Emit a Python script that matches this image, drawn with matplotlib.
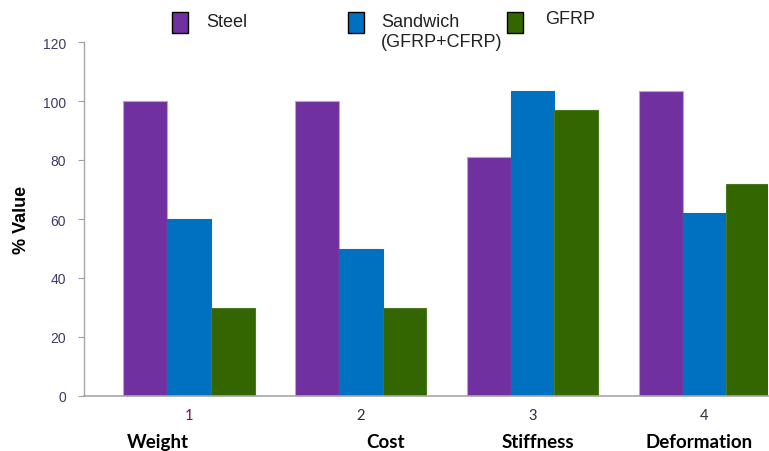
import matplotlib
matplotlib.use("Agg")
import matplotlib.pyplot as plt
from matplotlib.patches import Rectangle
import numpy as np

# Relative performance (%) of the three panel materials
categories = ["Weight", "Cost", "Stiffness", "Deformation"]
tick_numbers = ["1", "2", "3", "4"]
steel = [100, 100, 81, 103.5]
sandwich = [60, 50, 103.5, 62]
gfrp = [30, 30, 97, 72]
series_names = ["Steel", "Sandwich\n(GFRP+CFRP)", "GFRP"]
yticks = [0, 20, 40, 60, 80, 100, 120]

colors = ["#7030A0", "#0070C0", "#336600"]
edges = ["#B9A3D6", "#0070C0", "#4a7a20"]

fig = plt.figure(figsize=(7.69, 4.52), dpi=100)
ax = fig.add_axes([84 / 769, 1 - 397 / 452, (768 - 84) / 769, (397 - 43) / 452])

x = np.arange(len(categories))
w = 0.255
for k, vals in enumerate([steel, sandwich, gfrp]):
    ax.bar(x + (k - 1) * w, vals, width=w, color=colors[k],
           edgecolor=edges[k], linewidth=0.8, zorder=2)

ax.set_ylim(0, 120)
ax.set_xlim(-0.61, 3.37)
ax.set_yticks(yticks)
ax.set_yticklabels([str(t) for t in yticks], fontsize=10,
                   family="Liberation Sans", color="#3c3c64")
ax.tick_params(axis="y", direction="out", length=4, width=0.8,
               color="#a0a0a0", pad=9)
ax.set_xticks([])

for s in ["top", "right"]:
    ax.spines[s].set_visible(False)
ax.spines["left"].set_color("#a6a6a6")
ax.spines["bottom"].set_color("#a6a6a6")
ax.spines["left"].set_linewidth(1.0)
ax.spines["bottom"].set_linewidth(1.2)

ax.set_ylabel("% Value", fontsize=13, fontweight="bold",
              family="Liberation Sans", labelpad=9)

# Group numbers and category names under the axis
trans = ax.get_xaxis_transform()
num_colors = ["#7a1050", "#203040", "#203040", "#203040"]
for i, num in enumerate(tick_numbers):
    ax.text(x[i], -0.065, num, transform=trans, ha="center", va="baseline",
            fontsize=10.5, family="Lato", color=num_colors[i])
aligns = [("right", 0.0), ("left", 0.03), ("center", 0.03), ("center", -0.03)]
for i, cat in enumerate(categories):
    ha, dx = aligns[i]
    ax.text(x[i] + dx, -0.143, cat, transform=trans, ha=ha, va="baseline",
            fontsize=13.5, family="Lato", fontweight="bold", color="black")

# Legend along the top of the figure
leg_sq_x = [172, 348, 507]
leg_txt_x = [206, 381, 545]
leg_txt_top = [14, 14, 11]
for k, name in enumerate(series_names):
    fig.patches.append(Rectangle((leg_sq_x[k] / 769, 1 - 34 / 452), 16 / 769, 21 / 452,
                                 transform=fig.transFigure, facecolor=colors[k],
                                 edgecolor="black", linewidth=1.0))
    fig.text(leg_txt_x[k] / 769, 1 - leg_txt_top[k] / 452, name, fontsize=13,
             family="Liberation Sans", color="#222222", ha="left", va="top",
             linespacing=1.2)

fig.savefig("out.png", dpi=100)
